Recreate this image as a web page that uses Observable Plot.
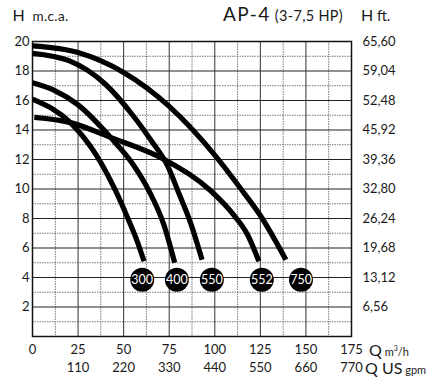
<!DOCTYPE html>
<html><head><meta charset="utf-8">
<script src="https://cdn.jsdelivr.net/npm/d3@7"></script>
<script src="https://cdn.jsdelivr.net/npm/@observablehq/plot@0.6"></script>
<style>
body{margin:0;background:#fff}
#chart{position:relative;width:431px;height:378px}
</style>
</head><body><div id="chart"></div>
<script>
// Pump curves (Q in m3/h, H in m.c.a.)
const q750 = [0, 25, 50, 75, 100, 115, 125, 139];
const h750 = [19.7, 19.25, 17.9, 15.6, 12.3, 9.9, 8.2, 5.2];
const q550 = [0, 20, 40, 55, 65, 74, 80, 87, 93];
const h550 = [19.2, 18.7, 17.1, 15.0, 13.3, 11.6, 9.8, 7.6, 5.2];
const q400 = [0, 11.7, 25, 42.8, 55, 63.8, 72, 78];
const h400 = [17.2, 16.7, 15.7, 13.5, 11.7, 9.9, 7.6, 5.0];
const q300 = [0, 20.8, 35, 45.5, 52, 57, 61.2];
const h300 = [16.1, 14.5, 12.3, 9.9, 8.1, 6.6, 5.1];
const q552 = [1, 20.8, 42.8, 73.9, 97.6, 110, 118, 124.2];
const h552 = [14.85, 14.5, 13.5, 11.9, 9.9, 8.3, 6.9, 5.1];

const labelNames = ["300", "400", "550", "552", "750"];
const labelQ = [60.2, 79.2, 98.4, 125.8, 147.3];
const labelH = [3.85, 3.85, 3.85, 3.85, 3.85];

const hTicks = [2, 4, 6, 8, 10, 12, 14, 16, 18, 20];
const ftLabels = ["6,56", "13,12", "19,68", "26,24", "32,80", "39,36", "45,92", "52,48", "59,04", "65,60"];
const qTicks = [0, 25, 50, 75, 100, 125, 150, 175];
const gpmLabels = ["", "110", "220", "330", "440", "550", "660", "770"];
const hMinor = [1, 3, 5, 7, 9, 11, 13, 15, 17, 19];
const hMajor = [2, 4, 6, 8, 10, 12, 14, 16, 18];
const qMinor = [12.5, 37.5, 62.5, 87.5, 112.5, 137.5, 162.5];
const qMajor = [25, 50, 75, 100, 125, 150];

const series = [
  ["750", q750, h750], ["550", q550, h550], ["400", q400, h400],
  ["300", q300, h300], ["552", q552, h552]
];
const rows = series.flatMap(([name, qs, hs]) => qs.map((q, i) => ({name, q, h: hs[i]})));
const labels = labelNames.map((name, i) => ({name, q: labelQ[i], h: labelH[i]}));

const chart = Plot.plot({
  width: 431, height: 378,
  marginLeft: 32, marginRight: 80, marginTop: 41, marginBottom: 42,
  x: {domain: [0, 175]},
  y: {domain: [0, 20]},
  style: {fontFamily: "Lato", fontSize: "13px", color: "#1a1a1a", background: "#fff"},
  marks: [
    Plot.ruleY(hMinor, {stroke: "#777", strokeWidth: 1, strokeDasharray: "1.5,1"}),
    Plot.ruleX(qMinor, {stroke: "#777", strokeWidth: 1, strokeDasharray: "1.5,1"}),
    Plot.ruleY(hMajor, {stroke: "#222", strokeWidth: 1}),
    Plot.ruleX(qMajor, {stroke: "#333", strokeWidth: 1}),
    Plot.frame({stroke: "#111", strokeWidth: 1.5}),
    Plot.line(rows, {x: "q", y: "h", z: "name", stroke: "#000", strokeWidth: 5.2, curve: "monotone-x", strokeLinecap: "butt", clip: "frame"}),
    Plot.dot(labels, {x: "q", y: "h", r: 12, fill: "#000", stroke: null}),
    Plot.text(labels, {x: "q", y: "h", text: "name", fill: "#fff", fontSize: 12.5, fontFamily: "Lato"}),
    Plot.axisY({anchor: "left", ticks: hTicks, tickSize: 0, tickPadding: 3, label: null, fontSize: 13}),
    Plot.axisY({anchor: "right", ticks: hTicks, tickFormat: d => ftLabels[hTicks.indexOf(d)], tickSize: 0, tickPadding: 11, label: null, fontSize: 13}),
    Plot.axisX({anchor: "bottom", ticks: qTicks, tickSize: 0, tickPadding: 8, label: null, fontSize: 13}),
    Plot.axisX({anchor: "bottom", ticks: qTicks, tickFormat: d => gpmLabels[qTicks.indexOf(d)], tickSize: 0, tickPadding: 26, label: null, fontSize: 13})
  ]
});
document.getElementById("chart").appendChild(chart);

const svg = d3.select(chart);
function title(x, y, parts, anchor) {
  const t = svg.append("text").attr("x", x).attr("y", y).attr("text-anchor", anchor || "start")
    .attr("font-family", "Lato").attr("fill", "#1a1a1a");
  parts.forEach(([s, size, dy, ls]) => {
    const ts = t.append("tspan").attr("font-size", size).text(s);
    if (dy) ts.attr("dy", dy);
    if (ls) ts.attr("letter-spacing", ls);
  });
}
title(12.5, 21, [["H", 16], ["\u00a0\u00a0m.c.a.", 13.5, null, 0.4]]);
title(343, 21, [["AP-4", 19, null, 1.5], ["\u00a0(3-7,5 HP)", 14.5, null, 0.3]], "end");
title(361, 21, [["H", 16], ["\u00a0ft.", 14.5]]);
title(369, 356, [["Q", 16], ["\u00a0m", 11], ["3", 7, "-5"], ["/h", 11, "5"]]);
title(365, 374, [["Q US", 16], ["\u00a0gpm", 11]]);
</script>
</body></html>
